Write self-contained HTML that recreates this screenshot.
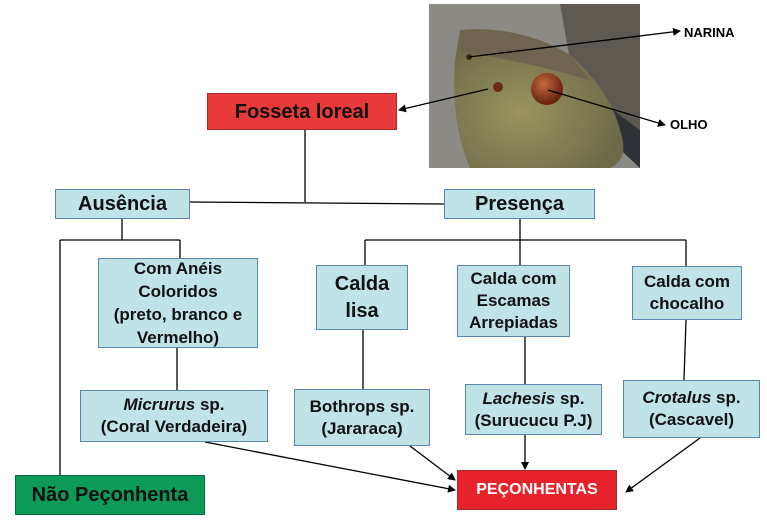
<!DOCTYPE html>
<html><head><meta charset="utf-8"><style>
body{margin:0;width:767px;height:521px;background:#fff;position:relative;overflow:hidden;font-family:"Liberation Sans",Arial,sans-serif;font-weight:bold}
.b{position:absolute;box-sizing:border-box;background:#bfe3e6;border:1.5px solid #5b86b0;display:flex;align-items:center;justify-content:center;text-align:center;color:#111;font-size:17px;line-height:22px}
svg{position:absolute;left:0;top:0}
</style></head><body>
<svg width="767" height="521">
<defs>
<radialGradient id="hd" cx="0.4" cy="0.6" r="0.6"><stop offset="0" stop-color="#9a9460"/><stop offset="1" stop-color="#6d6a48"/></radialGradient>
<radialGradient id="ey" cx="0.4" cy="0.35" r="0.6"><stop offset="0" stop-color="#c86a40"/><stop offset="1" stop-color="#6a2410"/></radialGradient>
<marker id="a" markerWidth="8" markerHeight="8" refX="7" refY="4" orient="auto" markerUnits="userSpaceOnUse"><path d="M0,0 L8,4 L0,8z" fill="#000"/></marker>
</defs>
<rect x="429" y="4" width="211" height="164" fill="#8c8a84"/>
<path d="M560,4 L640,4 L640,130 L600,100 L570,60z" fill="#5e5a52"/>
<path d="M600,100 L640,130 L640,168 L610,140z" fill="#2e3236"/>
<path d="M460,30 Q520,25 570,55 Q610,90 620,130 Q630,160 610,168 L470,168 Q450,120 455,60z" fill="url(#hd)"/>
<path d="M460,30 Q520,25 570,55 L590,80 Q520,60 462,52z" fill="#6e6450"/>
<circle cx="547" cy="89" r="16" fill="url(#ey)"/>
<circle cx="498" cy="87" r="5" fill="#6a2a18"/>
<circle cx="469" cy="57" r="3" fill="#3a2a18"/>
<g stroke="#000" stroke-width="1.3" fill="none">
<line x1="305" y1="130" x2="305" y2="202"/>
<line x1="190" y1="202" x2="444" y2="204"/>
<line x1="122" y1="219" x2="122" y2="240"/>
<line x1="60" y1="240" x2="180" y2="240"/>
<line x1="60" y1="240" x2="60" y2="476"/>
<line x1="180" y1="240" x2="180" y2="258"/>
<line x1="520" y1="219" x2="520" y2="240"/>
<line x1="365" y1="240" x2="686" y2="240"/>
<line x1="365" y1="240" x2="365" y2="265"/>
<line x1="520" y1="240" x2="520" y2="265"/>
<line x1="686" y1="240" x2="686" y2="266"/>
<line x1="177" y1="348" x2="177" y2="390"/>
<line x1="363" y1="330" x2="363" y2="389"/>
<line x1="525" y1="337" x2="525" y2="384"/>
<line x1="686" y1="320" x2="684" y2="380"/>
<line x1="525" y1="435" x2="525" y2="469" marker-end="url(#a)"/>
<line x1="205" y1="442" x2="455" y2="490" marker-end="url(#a)"/>
<line x1="410" y1="446" x2="455" y2="480" marker-end="url(#a)"/>
<line x1="700" y1="438" x2="626" y2="492" marker-end="url(#a)"/>
<line x1="469" y1="57" x2="680" y2="31" marker-end="url(#a)"/>
<line x1="548" y1="90" x2="665" y2="125" marker-end="url(#a)"/>
<line x1="488" y1="89" x2="399" y2="110" marker-end="url(#a)"/>
</g>
<text x="684" y="37" font-size="13" font-weight="bold" font-family="Liberation Sans">NARINA</text>
<text x="670" y="129" font-size="13" font-weight="bold" font-family="Liberation Sans">OLHO</text>
</svg>
<div class="b" style="left:207px;top:93px;width:190px;height:37px;background:#e83a3a;border-color:#9a3030;font-size:20px">Fosseta loreal</div>
<div class="b" style="left:55px;top:189px;width:135px;height:30px;font-size:20px">Ausência</div>
<div class="b" style="left:444px;top:189px;width:151px;height:30px;font-size:20px">Presença</div>
<div class="b" style="left:98px;top:258px;width:160px;height:90px;line-height:23px">Com Anéis<br>Coloridos<br>(preto, branco e<br>Vermelho)</div>
<div class="b" style="left:80px;top:390px;width:188px;height:52px"><span><i>Micrurus</i> sp.<br>(Coral Verdadeira)</span></div>
<div class="b" style="left:15px;top:475px;width:190px;height:40px;background:#0b9a58;border-color:#0a6a40;font-size:20px">Não Peçonhenta</div>
<div class="b" style="left:316px;top:265px;width:92px;height:65px;font-size:20px;line-height:27px">Calda<br>lisa</div>
<div class="b" style="left:457px;top:265px;width:113px;height:72px;font-size:17px">Calda com<br>Escamas<br>Arrepiadas</div>
<div class="b" style="left:632px;top:266px;width:110px;height:54px;font-size:17px">Calda com<br>chocalho</div>
<div class="b" style="left:294px;top:389px;width:136px;height:57px">Bothrops sp.<br>(Jararaca)</div>
<div class="b" style="left:465px;top:384px;width:137px;height:51px"><span><i>Lachesis</i> sp.<br>(Surucucu P.J)</span></div>
<div class="b" style="left:623px;top:380px;width:137px;height:58px"><span><i>Crotalus</i> sp.<br>(Cascavel)</span></div>
<div class="b" style="left:457px;top:470px;width:160px;height:40px;background:#e8222a;border-color:#9a3030;color:#fff;font-size:16px">PEÇONHENTAS</div>
</body></html>
